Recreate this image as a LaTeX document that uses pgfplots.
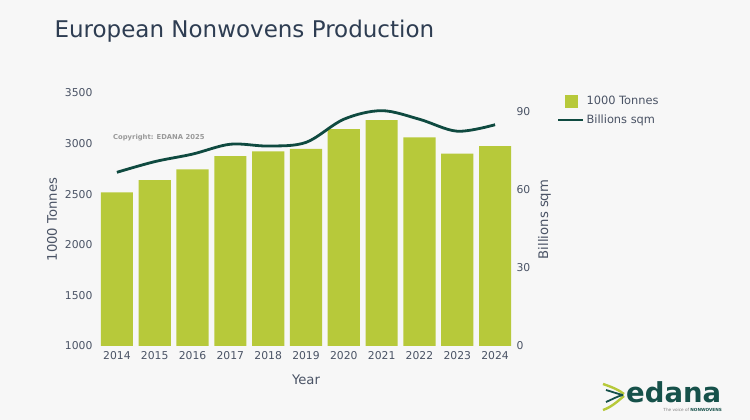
\documentclass[border=0pt]{standalone}
\usepackage{fontspec}
\setmainfont{DejaVu Sans}
\usepackage{pgfplots}
\pgfplotsset{compat=1.18}
\definecolor{bg}{HTML}{F7F7F7}
\definecolor{bargreen}{HTML}{B7C93A}
\definecolor{linegreen}{HTML}{0F4A40}
\definecolor{titletxt}{HTML}{2E3D52}
\definecolor{ticktxt}{HTML}{4A5365}
\definecolor{logoteal}{HTML}{16514A}

\pgfplotsset{
  base/.style={
    at={(98pt,74pt)}, anchor=south west,
    scale only axis, width=416pt, height=253pt,
    xmin=-0.5, xmax=10.5,
    axis line style={draw=none},
    major tick length=0pt,
    tick label style={text=ticktxt, font=\fontsize{10.8}{13}\selectfont},
    label style={text=ticktxt, font=\fontsize{13.2}{15}\selectfont},
    /pgf/number format/assume math mode=true,
    /pgf/number format/1000 sep={},
  }
}

\begin{document}
\begin{tikzpicture}
\fill[bg] (0pt,0pt) rectangle (750pt,420pt);
\useasboundingbox (0pt,0pt) rectangle (750pt,420pt);

\node[anchor=west, text=titletxt, font=\fontsize{23}{27}\selectfont] at (51pt,389pt) {European Nonwovens Production};

% Production volume (bars, left axis)
\begin{axis}[base,
  ymin=1000, ymax=3500, ytick={1000,1500,2000,2500,3000,3500},
  xtick={0,...,10},
  xticklabels={2014,2015,2016,2017,2018,2019,2020,2021,2022,2023,2024},
  xlabel={Year}, ylabel={1000 Tonnes},
  ylabel style={yshift=1pt},
  yticklabel style={xshift=-2pt},
  xticklabel style={yshift=-2pt},
  xlabel style={yshift=-8pt},
]
\addplot[ybar, bar width=0.85, fill=bargreen, draw=none] coordinates {
  (0,2519) (1,2638) (2,2746) (3,2877) (4,2924) (5,2947)
  (6,3144) (7,3233) (8,3062) (9,2900) (10,2976)
};
\end{axis}

% Production area (line, right axis)
\begin{axis}[base,
  axis y line*=right, axis x line=none,
  ymin=0, ymax=97.3, ytick={0,30,60,90},
  ylabel={Billions sqm},
  yticklabel style={xshift=-1pt},
  ylabel style={yshift=-1pt},
  legend style={at={(1.095,1.005)}, anchor=north west, draw=none, fill=none,
    font=\fontsize{11.4}{13}\selectfont, text=ticktxt,
    row sep=5pt},
  legend cell align=left,
]
\addlegendimage{legend image code/.code={\fill[bargreen] (6pt,-6pt) rectangle (18pt,6pt);}}
\addlegendentry{1000 Tonnes}
\addplot[smooth, tension=0.55, linegreen, line width=2.8pt,
  legend image code/.code={\draw[linegreen, line width=2.8pt] (-1pt,0pt) -- (24pt,0pt);}]
  coordinates {
  (0,66.8) (1,70.9) (2,73.8) (3,77.6) (4,76.9) (5,78.3)
  (6,87.2) (7,90.5) (8,87.2) (9,82.6) (10,85.1)
};
\addlegendentry{Billions sqm}
\end{axis}

\node[anchor=west, text=gray!80, font=\fontsize{6.8}{8}\bfseries, inner sep=0pt] at (113pt,282pt) {Copyright: EDANA 2025};

% logo
\begin{scope}
  \draw[bargreen, line width=2.4pt] (603pt,36pt) .. controls (612pt,33pt) and (619pt,30pt) .. (624pt,26pt);
  \draw[bargreen, line width=2.4pt] (603pt,10pt) .. controls (612pt,13pt) and (619pt,20pt) .. (624pt,24pt);
  \draw[logoteal, line width=1.8pt] (606pt,30pt) .. controls (613pt,28pt) and (618pt,26pt) .. (623pt,25pt);
  \draw[logoteal, line width=1.8pt] (606pt,18pt) .. controls (613pt,21pt) and (618pt,24pt) .. (623pt,25pt);
  \node[anchor=base west, text=logoteal, font=\fontsize{27.5}{30}\bfseries, inner sep=0pt] at (626pt,17pt) {edana};
  \node[anchor=east, font=\fontsize{4.2}{5}\selectfont, inner sep=0pt] at (722pt,10pt) {\textcolor{gray}{The voice of} \textcolor{logoteal}{\bfseries NONWOVENS}};
\end{scope}
\end{tikzpicture}
\end{document}
